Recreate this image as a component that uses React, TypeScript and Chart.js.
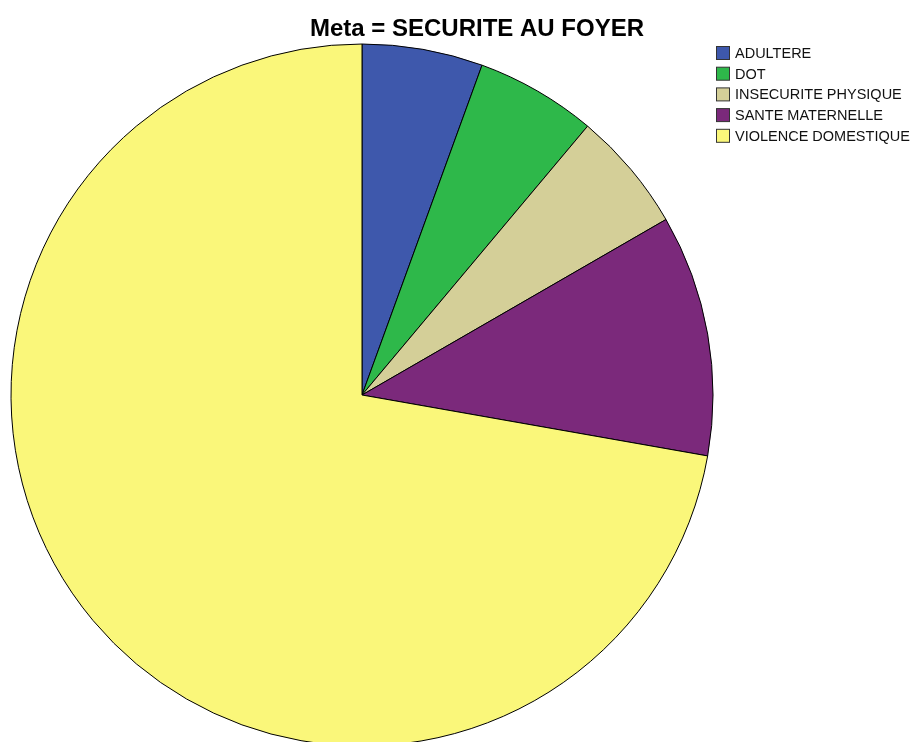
import React, { useEffect, useRef } from "react";
import { Chart, registerables } from "chart.js";

Chart.register(...registerables);

const TITLE = "Meta = SECURITE AU FOYER";
const categories = ["ADULTERE", "DOT", "INSECURITE PHYSIQUE", "SANTE MATERNELLE", "VIOLENCE DOMESTIQUE"];
const counts = [1, 1, 1, 2, 13];
const colors = ["#3E58AC", "#2EB84A", "#D4CF98", "#7B297B", "#FAF77A"];

const overlayPlugin = {
  id: "overlay",
  afterDraw(chart: any) {
    const ctx = chart.ctx;
    ctx.save();
    // title
    ctx.fillStyle = "#000";
    ctx.font = "bold 24px 'Liberation Sans', Arial, sans-serif";
    ctx.textAlign = "center";
    ctx.textBaseline = "middle";
    ctx.fillText(TITLE, 477, 29);
    // legend
    ctx.font = "14.5px 'Liberation Sans', Arial, sans-serif";
    ctx.textAlign = "left";
    categories.forEach((c, i) => {
      const y = 53 + i * 20.7;
      ctx.fillStyle = colors[i];
      ctx.fillRect(716.5, y - 6.5, 13, 13);
      ctx.strokeStyle = "#333";
      ctx.lineWidth = 1;
      ctx.strokeRect(716.5, y - 6.5, 13, 13);
      ctx.fillStyle = "#111";
      ctx.fillText(c, 735, y + 1);
    });
    ctx.restore();
  },
};

export default function App() {
  const ref = useRef<HTMLCanvasElement | null>(null);
  useEffect(() => {
    document.body.style.margin = "0";
    const chart = new Chart(ref.current!, {
      type: "pie",
      data: {
        labels: categories,
        datasets: [
          {
            data: counts,
            backgroundColor: colors,
            borderColor: "#000",
            borderWidth: 1,
            clip: false,
          } as any,
        ],
      },
      options: {
        animation: false,
        responsive: false,
        radius: 351,
        layout: { padding: { left: 0, right: 191, top: 48, bottom: 0 } },
        plugins: {
          legend: { display: false },
          title: { display: false },
          tooltip: { enabled: false },
        },
      } as any,
      plugins: [overlayPlugin],
    });
    return () => chart.destroy();
  }, []);
  return (
    <div style={{ position: "relative", width: 915, height: 742, overflow: "hidden", background: "#fff" }}>
      <canvas ref={ref} width={915} height={742} style={{ display: "block" }} />
    </div>
  );
}
